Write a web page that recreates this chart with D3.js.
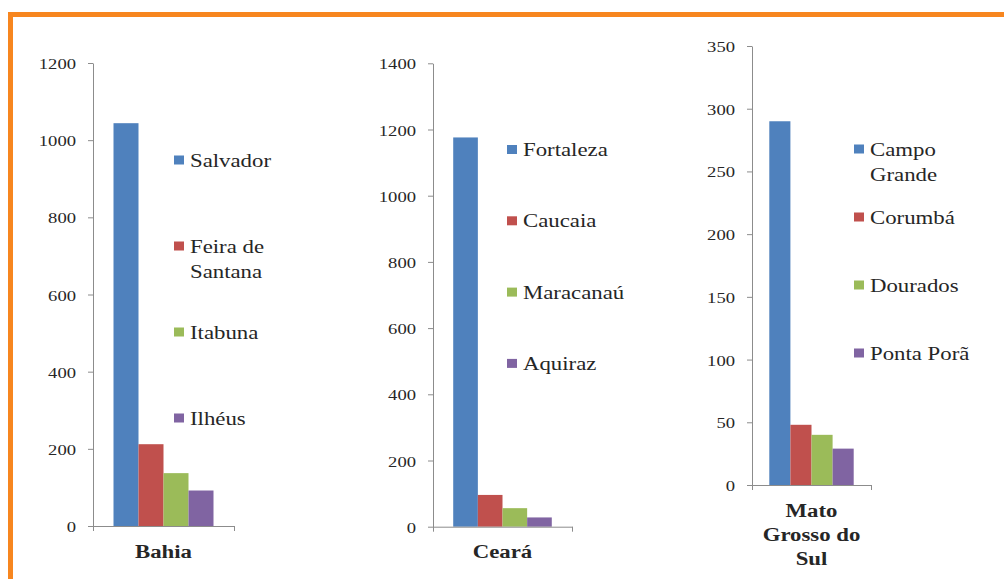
<!DOCTYPE html>
<html>
<head>
<meta charset="utf-8">
<script src="https://cdn.jsdelivr.net/npm/d3@7"></script>
<style>
  html, body { margin: 0; padding: 0; background: #fff; }
  svg { display: block; }
  text { font-family: "Liberation Serif", "Times New Roman", serif; fill: #262626; }
</style>
</head>
<body>
<svg id="chart" width="1004" height="579"></svg>
<script>
// ---- data ----
const states = ["Bahia", "Ceará", "Mato Grosso do Sul"];
const stateLabelLines = [["Bahia"], ["Ceará"], ["Mato", "Grosso do", "Sul"]];

const bahiaCities = ["Salvador", "Feira de Santana", "Itabuna", "Ilhéus"];
const bahiaValues = [1044, 212, 137, 92];
const bahiaTicks = [0, 200, 400, 600, 800, 1000, 1200];

const cearaCities = ["Fortaleza", "Caucaia", "Maracanaú", "Aquiraz"];
const cearaValues = [1176, 96, 56, 28];
const cearaTicks = [0, 200, 400, 600, 800, 1000, 1200, 1400];

const msCities = ["Campo Grande", "Corumbá", "Dourados", "Ponta Porã"];
const msValues = [290, 48, 40, 29];
const msTicks = [0, 50, 100, 150, 200, 250, 300, 350];

const legendLines = [
  [["Salvador"], ["Feira de", "Santana"], ["Itabuna"], ["Ilhéus"]],
  [["Fortaleza"], ["Caucaia"], ["Maracanaú"], ["Aquiraz"]],
  [["Campo", "Grande"], ["Corumbá"], ["Dourados"], ["Ponta Porã"]]
];

const colors = ["#4F81BD", "#C0504D", "#9BBB59", "#8064A2"];

// ---- layout (not data) ----
const layout = [
  { x0: 93,  x1: 234, yTop: 63,   yBot: 526,   legX: 174, legY0: 160,   legStep: 86,   labelY: 558 },
  { x0: 433, x1: 572, yTop: 63.3, yBot: 526.7, legX: 507, legY0: 149.5, legStep: 71.3, labelY: 558 },
  { x0: 752, x1: 871, yTop: 46,   yBot: 485,   legX: 854, legY0: 149,   legStep: 68,   labelY: 516.7 }
];
const panels = [
  { cities: bahiaCities, values: bahiaValues, ticks: bahiaTicks },
  { cities: cearaCities, values: cearaValues, ticks: cearaTicks },
  { cities: msCities, values: msValues, ticks: msTicks }
];

const STRETCH = 1.2;
const FONT = "'Liberation Serif', 'Times New Roman', serif";
const svg = d3.select("#chart");

// orange frame
svg.append("rect")
  .attr("x", 10.5).attr("y", 14.5)
  .attr("width", 1004).attr("height", 600)
  .attr("fill", "none")
  .attr("stroke", "#F7861F")
  .attr("stroke-width", 5);

panels.forEach((p, i) => {
  const L = layout[i];
  const g = svg.append("g");
  const maxV = p.ticks[p.ticks.length - 1];
  const y = d3.scaleLinear().domain([0, maxV]).range([L.yBot, L.yTop]);
  const x = d3.scaleBand().domain(p.cities).range([L.x0, L.x1])
    .paddingInner(0).paddingOuter(0.82);

  // bars
  g.selectAll("rect.bar").data(p.cities).enter().append("rect")
    .attr("class", "bar")
    .attr("x", d => x(d))
    .attr("width", x.bandwidth())
    .attr("y", (d, j) => y(p.values[j]))
    .attr("height", (d, j) => y(0) - y(p.values[j]))
    .attr("fill", (d, j) => colors[j]);

  // y axis
  const yAxis = d3.axisLeft(y).tickValues(p.ticks).tickSize(5).tickSizeOuter(0)
    .tickFormat(d3.format("d"));
  const ya = g.append("g").attr("transform", `translate(${L.x0},0)`).call(yAxis);
  ya.select(".domain").attr("stroke", "#8C8C8C");
  ya.selectAll(".tick line").attr("stroke", "#8C8C8C");
  ya.selectAll(".tick text")
    .attr("x", null).attr("dy", null)
    .attr("transform", `translate(-17,5.5) scale(${STRETCH},1)`)
    .style("font-family", FONT)
    .style("font-size", "15.5px")
    .attr("fill", "#262626");

  // x axis line with end ticks
  const xe = d3.scaleLinear().domain([0, 1]).range([L.x0, L.x1]);
  const xa = g.append("g").attr("transform", `translate(0,${L.yBot})`)
    .call(d3.axisBottom(xe).tickValues([0, 1]).tickSize(5).tickSizeOuter(0).tickFormat(""));
  xa.select(".domain").attr("stroke", "#8C8C8C");
  xa.selectAll(".tick line").attr("stroke", "#8C8C8C");

  // category label
  const cx = (L.x0 + L.x1) / 2;
  stateLabelLines[i].forEach((line, k) => {
    g.append("text")
      .attr("transform", `translate(${cx},${L.labelY + k * 24.2}) scale(${STRETCH},1)`)
      .attr("text-anchor", "middle")
      .style("font-family", FONT)
      .style("font-size", "19px")
      .style("font-weight", "bold")
      .attr("fill", "#1a1a1a")
      .text(line);
  });

  // legend
  legendLines[i].forEach((lines, j) => {
    const cy = L.legY0 + j * L.legStep;
    g.append("rect")
      .attr("x", L.legX).attr("y", cy - 4.5)
      .attr("width", 10).attr("height", 9)
      .attr("fill", colors[j]);
    lines.forEach((t, k) => {
      g.append("text")
        .attr("transform", `translate(${L.legX + 16},${cy + 6.5 + k * 25.5}) scale(${STRETCH},1)`)
        .style("font-family", FONT)
        .style("font-size", "19px")
        .attr("fill", "#262626")
        .text(t);
    });
  });
});
</script>
</body>
</html>
